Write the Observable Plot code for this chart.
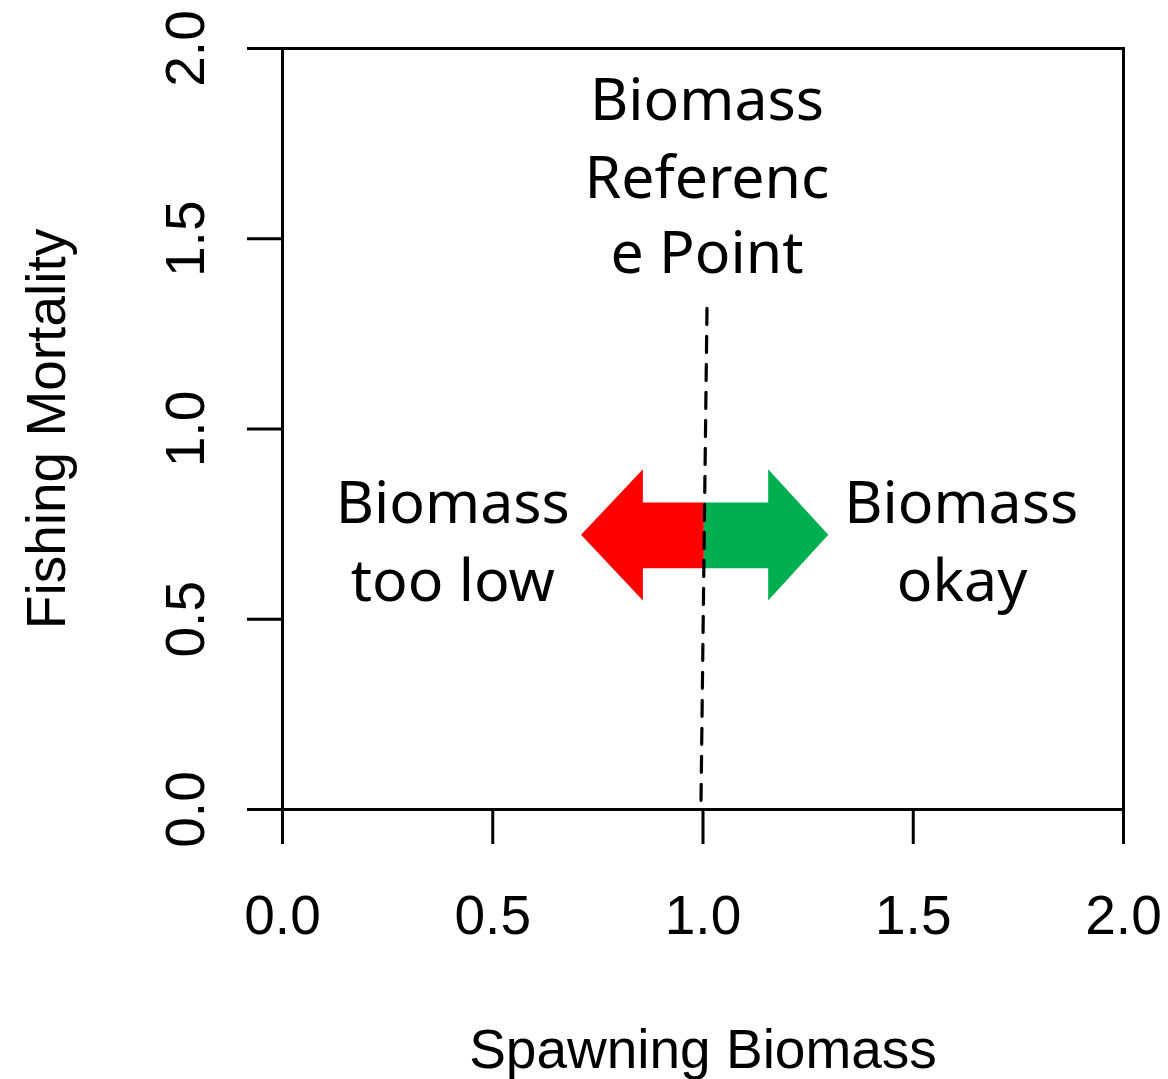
<!DOCTYPE html>
<html>
<head>
<meta charset="utf-8">
<script src="https://cdn.jsdelivr.net/npm/d3@7"></script>
<script src="https://cdn.jsdelivr.net/npm/@observablehq/plot@0.6"></script>
<style>
  html, body { margin: 0; padding: 0; background: #fff; }
  #chart { width: 1168px; height: 1079px; }
</style>
</head>
<body>
<div id="chart"></div>
<script>
// ---- Data ----
const xTicks = [0, 0.5, 1.0, 1.5, 2.0];
const yTicks = [0, 0.5, 1.0, 1.5, 2.0];
const xLabel = "Spawning Biomass";
const yLabel = "Fishing Mortality";

// reference line (biomass reference point), drawn from top to bottom
const refLineX = [1.0095, 0.995];
const refLineY = [1.317, 0.0];

// arrow outlines
const redArrowX = [1.002, 0.857, 0.857, 0.710, 0.857, 0.857, 1.002];
const redArrowY = [0.807, 0.807, 0.894, 0.722, 0.549, 0.634, 0.634];
const greenArrowX = [1.002, 1.155, 1.155, 1.298, 1.155, 1.155, 1.002];
const greenArrowY = [0.807, 0.807, 0.894, 0.722, 0.549, 0.634, 0.634];

// annotation lines
const annText = ["Biomass", "Referenc", "e Point", "Biomass", "too low", "Biomass", "okay"];
const annX = [1.0095, 1.0095, 1.0095, 0.405, 0.405, 1.614, 1.616];
const annY = [1.811, 1.608, 1.409, 0.754, 0.549, 0.754, 0.549];

// ---- Build tables ----
const refLine = refLineX.map((x, i) => ({x, y: refLineY[i]}));
const redArrow = redArrowX.map((x, i) => ({x, y: redArrowY[i]}));
const greenArrow = greenArrowX.map((x, i) => ({x, y: greenArrowY[i]}));
const ann = annText.map((t, i) => ({t, x: annX[i], y: annY[i]}));

const chart = Plot.plot({
  width: 1168,
  height: 1079,
  marginLeft: 282,
  marginRight: 45,
  marginTop: 48,
  marginBottom: 270,
  style: {fontFamily: "'Liberation Sans', Arial, sans-serif", fontSize: "55px", color: "#000", background: "#fff"},
  x: {domain: [0, 2]},
  y: {domain: [0, 2]},
  marks: [
    Plot.line(redArrow, {x: "x", y: "y", fill: "#ff0000", stroke: "none", curve: "linear-closed"}),
    Plot.line(greenArrow, {x: "x", y: "y", fill: "#00b050", stroke: "none", curve: "linear-closed"}),
    Plot.line(refLine, {x: "x", y: "y", stroke: "#000", strokeWidth: 3.2, strokeDasharray: "16,12"}),
    Plot.text(ann, {x: "x", y: "y", text: "t", textAnchor: "middle", lineAnchor: "bottom",
      fontFamily: "'Noto Sans', 'Open Sans', sans-serif", fontSize: 59, fill: "#000"}),
    Plot.frame({stroke: "#000", strokeWidth: 3}),
    Plot.axisX(xTicks, {
      tickSize: 35, tickPadding: 50, strokeWidth: 3,
      tickFormat: d3.format(".1f"), fontSize: 55,
      label: xLabel, labelAnchor: "center", labelArrow: "none", labelOffset: 258
    }),
    Plot.axisY(yTicks, {
      tickSize: 35, tickPadding: 44, strokeWidth: 3, tickRotate: -90,
      tickFormat: d3.format(".1f"), fontSize: 55,
      label: yLabel, labelAnchor: "center", labelArrow: "none", labelOffset: 257
    })
  ]
});
document.getElementById("chart").appendChild(chart);
</script>
</body>
</html>
